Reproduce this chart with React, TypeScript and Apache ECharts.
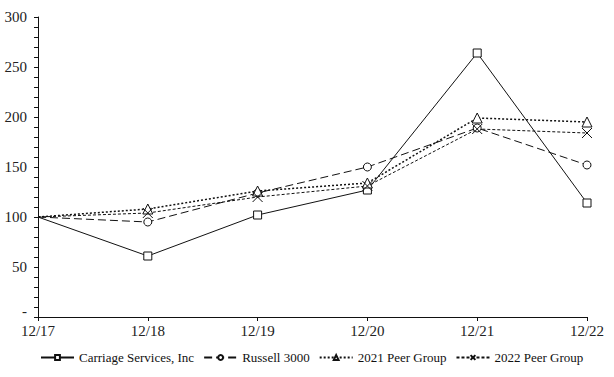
import React, { useEffect, useRef } from "react";
import * as echarts from "echarts";

const categories = ["12/17", "12/18", "12/19", "12/20", "12/21", "12/22"];
const carriage = [100, 61, 102, 127, 264, 114];
const russell = [100, 95, 124, 150, 189, 152];
const peer2021 = [100, 108, 126, 134, 199, 195];
const peer2022 = [100, 104, 120, 131, 188, 184];
const seriesNames = ["Carriage Services, Inc", "Russell 3000", "2021 Peer Group", "2022 Peer Group"];

const FONT = "Liberation Serif";
const X_SYMBOL = "path://M0,0L10,10M10,0L0,10";

export default function App() {
  const ref = useRef<HTMLDivElement>(null);
  useEffect(() => {
    if (!ref.current) return;
    const chart = echarts.init(ref.current, undefined, { renderer: "svg" });
    const mk = (name: string, data: number[], symbol: string, size: number, lineType: any, width = 1) => ({
      name,
      type: "line",
      data: data.map((v, i) => (i === 0 ? { value: v, symbol: "none" } : v)),
      symbol,
      symbolSize: size,
      showSymbol: true,
      lineStyle: { color: "#111", width, type: lineType },
      itemStyle: { color: "#fff", borderColor: "#111", borderWidth: 1 },
      emphasis: { disabled: true },
    });
    chart.setOption({
      animation: false,
      backgroundColor: "#fff",
      textStyle: { fontFamily: FONT },
      grid: { left: 38, right: 27, top: 17, bottom: 60, containLabel: false },
      legend: {
        left: 40,
        top: 351,
        padding: 0,
        itemWidth: 33,
        itemHeight: 6,
        itemGap: 9,
        textStyle: { fontFamily: FONT, fontSize: 13, color: "#111" },
        data: seriesNames,
      },
      xAxis: {
        type: "category",
        data: categories,
        boundaryGap: false,
        axisLine: { lineStyle: { color: "#111", width: 1 } },
        axisTick: { show: true, inside: false, length: 4, lineStyle: { color: "#111" } },
        axisLabel: { fontFamily: FONT, fontSize: 15, color: "#222", margin: 6 },
        splitLine: { show: false },
      },
      yAxis: {
        type: "value",
        min: 0,
        max: 300,
        interval: 50,
        axisLine: { show: true, lineStyle: { color: "#111", width: 1 } },
        axisTick: { show: true, inside: false, length: 4, lineStyle: { color: "#111" } },
        minorTick: { show: true, splitNumber: 5, length: 4, lineStyle: { color: "#111" } },
        axisLabel: {
          fontFamily: FONT,
          fontSize: 15,
          color: "#222",
          margin: 11,
          formatter: (v: number) => (v === 0 ? "{d|-}" : String(v)),
          rich: {
            d: { fontFamily: FONT, fontSize: 15, color: "#222", padding: [0, 0, 12, 0] },
          },
        },
        splitLine: { show: false },
      },
      series: [
        mk(seriesNames[0], carriage, "rect", 8, "solid"),
        mk(seriesNames[1], russell, "circle", 8, [8, 4]),
        mk(seriesNames[2], peer2021, "triangle", 10, [2, 2], 1.5),
        mk(seriesNames[3], peer2022, X_SYMBOL, 10, [3, 2]),
      ],
    });
    return () => chart.dispose();
  }, []);
  return <div ref={ref} style={{ width: 614, height: 377, position: "absolute", left: 0, top: 0 }} />;
}
